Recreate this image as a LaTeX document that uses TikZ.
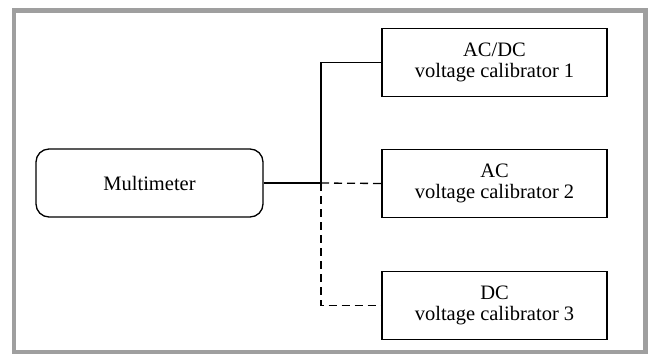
\documentclass[tikz,border=0pt]{standalone}
\usepackage{fontspec}
\setmainfont{Liberation Serif}
\begin{document}
\begin{tikzpicture}[x=1pt,y=-1pt,
  box/.style={draw=black,line width=1.3pt,minimum width=225pt,minimum height=68pt,inner sep=0pt,align=center,font=\fontsize{20.5}{21.5}\selectfont},
  meter/.style={box,rounded corners=13pt,minimum width=227pt},
  wire/.style={line width=1.3pt},
  dwire/.style={wire,dash pattern=on 8pt off 5pt}]
\useasboundingbox (0,0) rectangle (648,354);
\fill[white] (0,0) rectangle (648,354);
\fill[gray!75] (11.7,8) rectangle (648,354);
\fill[white] (15.5,13) rectangle (643.3,350);
\node[meter] (m) at (149.5,183) {Multimeter};
\node[box] (c1) at (494.5,62.5) {AC/DC\\voltage calibrator 1};
\node[box] (c2) at (494.5,183.5) {AC\\voltage calibrator 2};
\node[box] (c3) at (494.5,305.5) {DC\\voltage calibrator 3};
\coordinate (j) at (321,183);
\draw[wire] (m.east) -- (j) |- (c1.west);
\draw[dwire] (j) -- (c2.west);
\draw[dwire] (j) |- (c3.west);
\end{tikzpicture}
\end{document}
